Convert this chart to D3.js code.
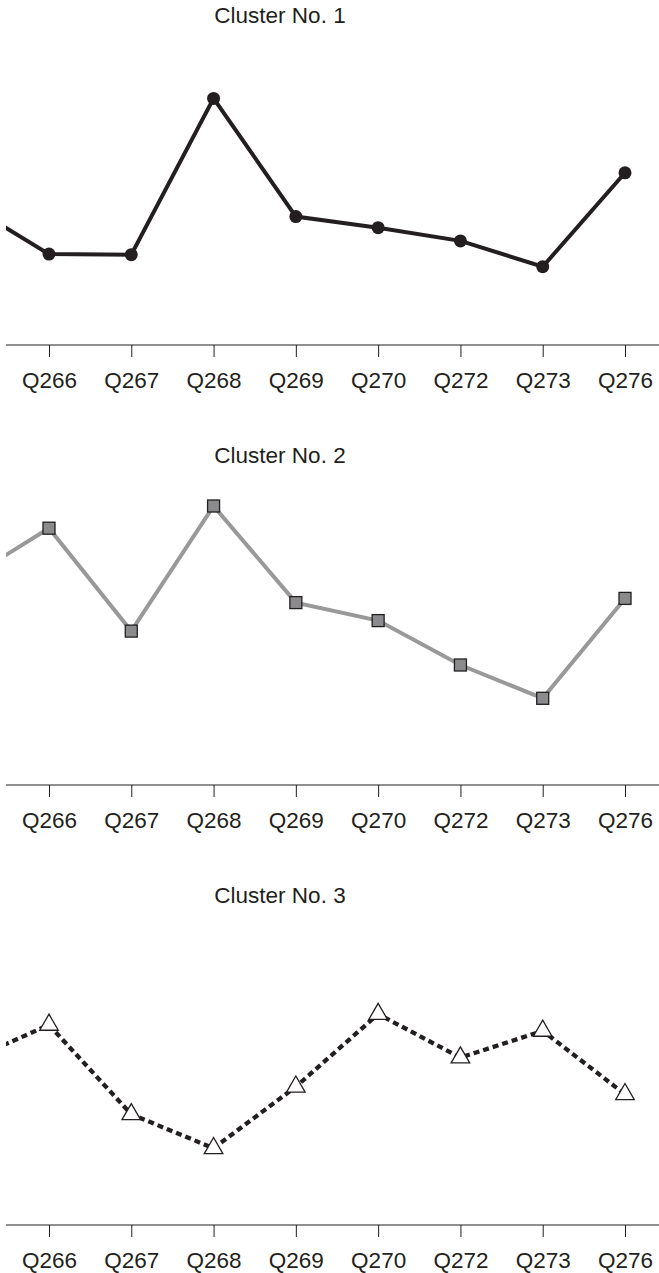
<!DOCTYPE html>
<html>
<head>
<meta charset="utf-8">
<script src="https://cdn.jsdelivr.net/npm/d3@7"></script>
<style>
  html, body { margin: 0; padding: 0; background: #fff; }
  svg { display: block; }
  text { font-family: "Liberation Sans", Arial, sans-serif; fill: #231f20; }
</style>
</head>
<body>
<div id="chart"></div>
<script>
// Question codes along the x axis (Q265 sits just left of the visible window)
const questions = ["Q265", "Q266", "Q267", "Q268", "Q269", "Q270", "Q272", "Q273", "Q276"];
// Codes that get a tick and label
const tickLabels = ["Q266", "Q267", "Q268", "Q269", "Q270", "Q272", "Q273", "Q276"];

// Cluster profiles
const cluster1 = [4.70, 3.03, 3.01, 8.22, 4.28, 3.91, 3.47, 2.61, 5.74];
const cluster2 = [6.85, 8.56, 5.13, 9.30, 6.08, 5.48, 4.00, 2.89, 6.22];
const cluster3 = [5.45, 6.67, 3.69, 2.56, 4.61, 7.03, 5.58, 6.47, 4.36];

const titles = ["Cluster No. 1", "Cluster No. 2", "Cluster No. 3"];

const W = 659, H = 1273;
const ink = "#231f20";

const svg = d3.select("#chart").append("svg")
  .attr("width", W).attr("height", H);

// shared horizontal scale; first category falls outside the clip window
const x = d3.scalePoint().domain(questions).range([-33.3, 625]);
const clipLeft = 6;

svg.append("defs").append("clipPath").attr("id", "plotClip")
  .append("rect").attr("x", clipLeft).attr("y", 0).attr("width", W - clipLeft).attr("height", H);

const panels = [
  { values: cluster1, axisY: 345, type: "circle" },
  { values: cluster2, axisY: 785, type: "square" },
  { values: cluster3, axisY: 1225, type: "triangle" }
];

panels.forEach((p, i) => {
  const y = d3.scaleLinear().domain([0, 10]).range([p.axisY, p.axisY - 300]);
  const g = svg.append("g");

  // title
  g.append("text")
    .attr("x", 280).attr("y", p.axisY - 322.5)
    .attr("text-anchor", "middle")
    .style("font-size", "22.5px")
    .text(titles[i]);

  // x axis
  const axis = g.append("g")
    .attr("transform", `translate(0,${p.axisY})`)
    .call(d3.axisBottom(x).tickValues(tickLabels).tickSize(12).tickSizeOuter(0));
  axis.select(".domain").remove();
  axis.selectAll(".tick line").attr("stroke", ink).attr("stroke-width", 1);
  axis.selectAll(".tick text")
    .attr("fill", ink)
    .style("font-size", "22.5px")
    .style("font-family", "'Liberation Sans', Arial, sans-serif")
    .attr("dy", null).attr("y", 43.3);
  g.append("line")
    .attr("x1", clipLeft).attr("x2", W)
    .attr("y1", p.axisY).attr("y2", p.axisY)
    .attr("stroke", ink).attr("stroke-width", 1.2);

  const pts = questions.map((q, j) => ({ q, v: p.values[j] }));
  const line = d3.line().x(d => x(d.q)).y(d => y(d.v));
  const plot = g.append("g").attr("clip-path", "url(#plotClip)");

  const path = plot.append("path").datum(pts)
    .attr("d", line)
    .attr("fill", "none")
    .attr("stroke-linejoin", "miter");

  if (p.type === "circle") {
    path.attr("stroke", ink).attr("stroke-width", 4);
    plot.selectAll("circle").data(pts).join("circle")
      .attr("cx", d => x(d.q)).attr("cy", d => y(d.v))
      .attr("r", 6.5).attr("fill", ink);
  } else if (p.type === "square") {
    path.attr("stroke", "#999999").attr("stroke-width", 4);
    plot.selectAll("rect").data(pts).join("rect")
      .attr("x", d => x(d.q) - 6).attr("y", d => y(d.v) - 6)
      .attr("width", 12).attr("height", 12)
      .attr("fill", "#8b8b8d").attr("stroke", ink).attr("stroke-width", 1.3);
  } else {
    path.attr("stroke", ink).attr("stroke-width", 4.3)
      .attr("stroke-dasharray", "6,4");
    const tri = d3.symbol().type(d3.symbolTriangle).size(150);
    plot.selectAll("path.tri").data(pts).join("path")
      .attr("class", "tri")
      .attr("d", tri)
      .attr("transform", d => `translate(${x(d.q)},${y(d.v)})`)
      .attr("fill", "#fff").attr("stroke", ink).attr("stroke-width", 1.3);
  }
});
</script>
</body>
</html>
